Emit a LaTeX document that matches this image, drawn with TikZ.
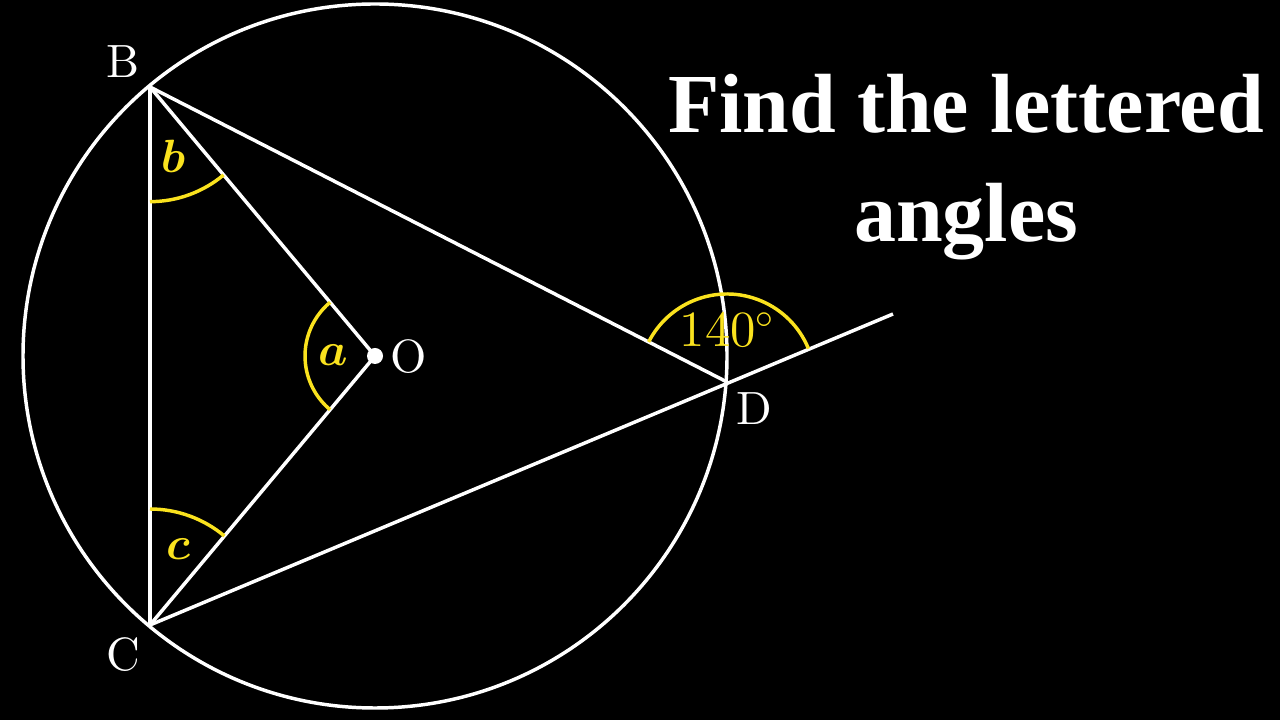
\RequirePackage{fix-cm}
\documentclass[tikz,border=0pt]{standalone}
\usepackage{fontspec}
\usepackage{bm}
\newfontfamily\titlefont{Liberation Serif}[BoldFont={* Bold}]
\newfontfamily\lmten{lmroman10-regular.otf}
\usetikzlibrary{angles}
\definecolor{ylw}{RGB}{250,226,30}
\begin{document}
\begin{tikzpicture}[x=0.75pt,y=0.75pt,
  geo/.style={draw=white,line width=2.6pt},
  arcmark/.style={draw=ylw,line width=2.6pt},
  ptlabel/.style={text=white,font=\lmten\fontsize{35}{40}\selectfont,inner sep=0pt},
  anglabel/.style={text=ylw,font=\lmten\fontsize{35}{40}\selectfont,inner sep=0pt},
  titletext/.style={text=white,anchor=base,font=\titlefont\bfseries\fontsize{63}{70}\selectfont,inner sep=0pt}]
\fill[black] (0,0) rectangle (1280,720);
\useasboundingbox (0,0) rectangle (1280,720);
\coordinate (O) at (375,364);
\coordinate (B) at (150,633);
\coordinate (C) at (150,95);
\coordinate (D) at (727,338);
\coordinate (E) at (893,406);
% circle
\draw[geo] (O) circle (264pt);
% chords and radii
\draw[geo] (B) -- (C);
\draw[geo] (B) -- (O);
\draw[geo] (O) -- (C);
\draw[geo] (B) -- (D);
\draw[geo] (C) -- (E);
\fill[white] (O) circle (6pt);
% angle marks
\pic[arcmark, angle radius=86pt] {angle=C--B--O};
\pic[arcmark, angle radius=87pt] {angle=O--C--B};
\pic[arcmark, angle radius=52.5pt] {angle=B--O--C};
\pic[arcmark, angle radius=66pt] {angle=E--D--B};
% labels
\node[ptlabel] (lB) at (123,658) {B};
\node[ptlabel] (lC) at (123,65) {C};
\node[ptlabel] (lO) at (409,363) {O};
\node[ptlabel] (lD) at (754,311) {D};
\node[anglabel] (lb) at (173,564) {$\bm{b}$};
\node[anglabel] (la) at (333,365) {$\bm{a}$};
\node[anglabel] (lc) at (178,171) {$\bm{c}$};
\node[anglabel,font=\lmten\fontsize{38}{42}\selectfont] (l140) at (727,390) {140$^{\circ}$};
% title
\node[titletext] (t1) at (966,587) {Find the lettered};
\node[titletext] (t2) at (966,478) {angles};
\end{tikzpicture}
\end{document}
